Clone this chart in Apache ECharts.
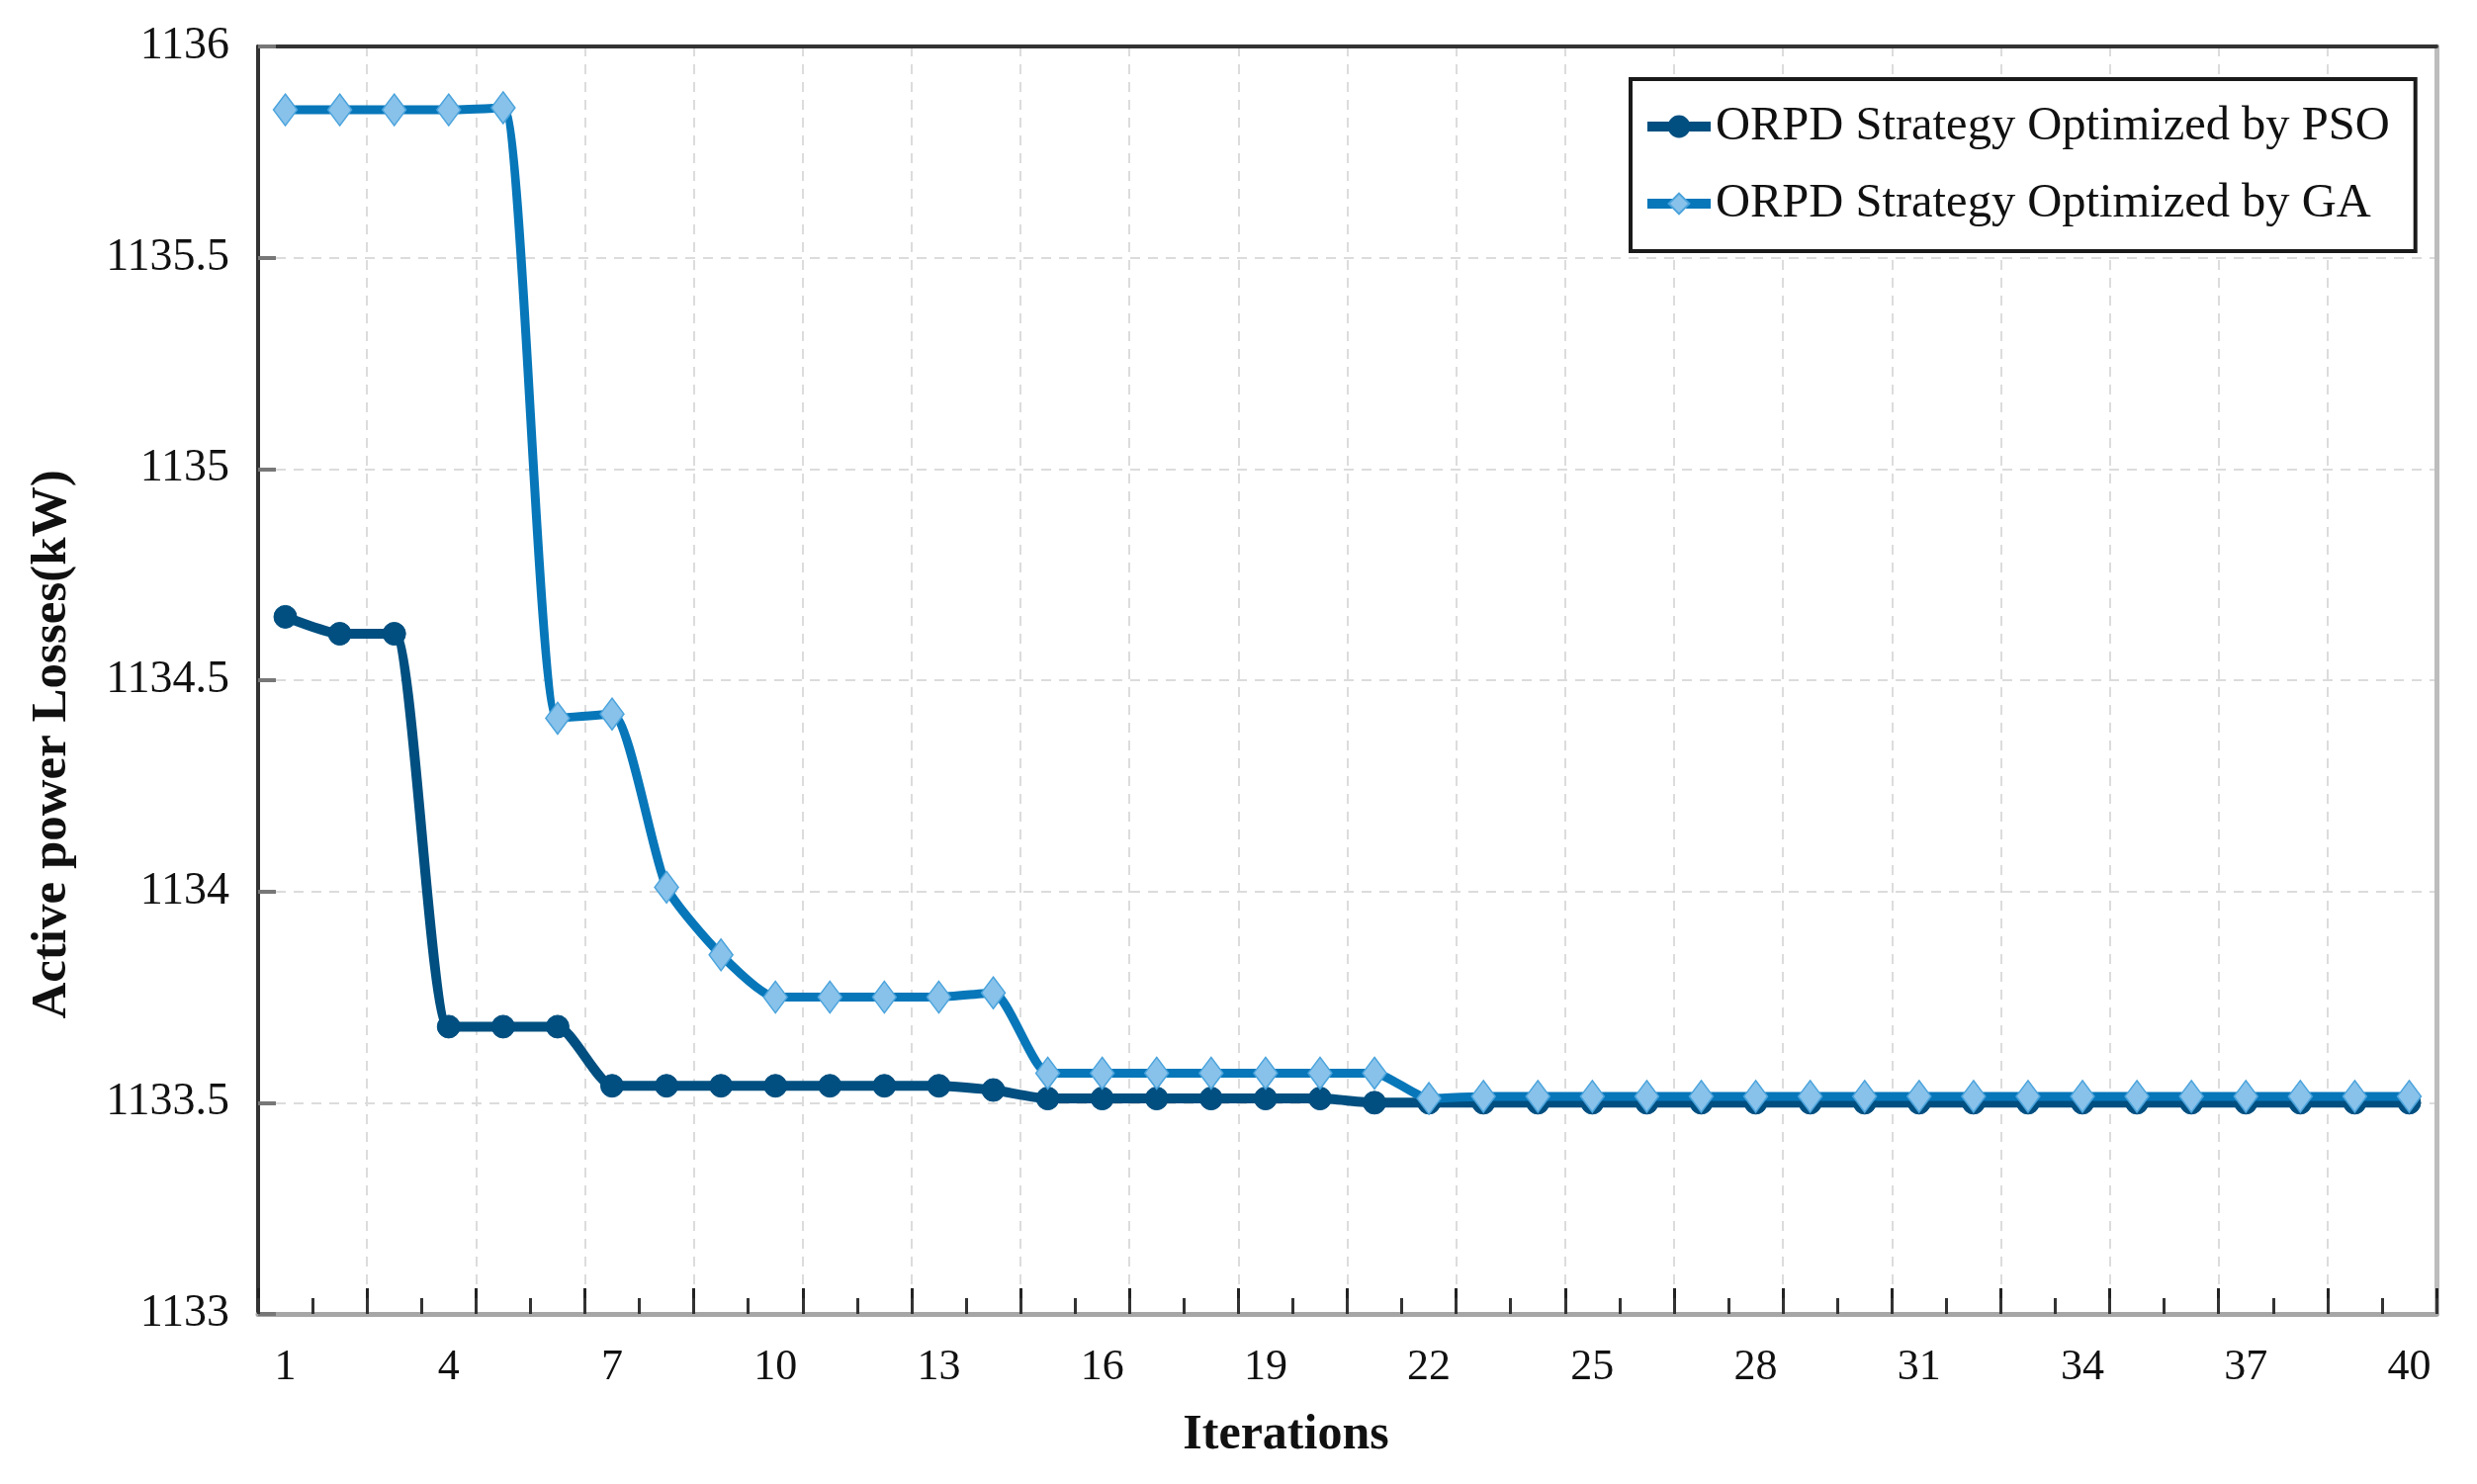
<!DOCTYPE html>
<html>
<head>
<meta charset="utf-8">
<script src="https://cdn.jsdelivr.net/npm/echarts@6/dist/echarts.min.js"></script>
<style>
html,body{margin:0;padding:0;background:#fff;}
#chart{width:2505px;height:1501px;}
</style>
</head>
<body>
<div id="chart"></div>
<script>
var iterations = [];
for (var i = 1; i <= 40; i++) iterations.push(String(i));

var psoLosses = [
  1134.65, 1134.61, 1134.61, 1133.68, 1133.68, 1133.68, 1133.54, 1133.54, 1133.54, 1133.54,
  1133.54, 1133.54, 1133.54, 1133.53, 1133.51, 1133.51, 1133.51, 1133.51, 1133.51, 1133.51,
  1133.50, 1133.50, 1133.50, 1133.50, 1133.50, 1133.50, 1133.50, 1133.50, 1133.50, 1133.50,
  1133.50, 1133.50, 1133.50, 1133.50, 1133.50, 1133.50, 1133.50, 1133.50, 1133.50, 1133.50
];
var gaLosses = [
  1135.85, 1135.85, 1135.85, 1135.85, 1135.855, 1134.41, 1134.42, 1134.01, 1133.85, 1133.75,
  1133.75, 1133.75, 1133.75, 1133.76, 1133.57, 1133.57, 1133.57, 1133.57, 1133.57, 1133.57,
  1133.57, 1133.51, 1133.515, 1133.515, 1133.515, 1133.515, 1133.515, 1133.515, 1133.515, 1133.515,
  1133.515, 1133.515, 1133.515, 1133.515, 1133.515, 1133.515, 1133.515, 1133.515, 1133.515, 1133.515
];
var seriesNames = ['ORPD Strategy Optimized by PSO', 'ORPD Strategy Optimized by GA'];
var yTicks = { min: 1133, max: 1136, interval: 0.5 };

var serif = '"Liberation Serif", "DejaVu Serif", serif';
var chart = echarts.init(document.getElementById('chart'));

chart.setOption({
  backgroundColor: '#fff',
  animation: false,
  grid: { left: 261, right: 41, top: 47, bottom: 172 },
  legend: {
    orient: 'vertical',
    left: 1649,
    top: 80,
    padding: [22, 26, 22, 12],
    itemGap: 26,
    itemWidth: 64,
    itemHeight: 26,
    borderColor: '#1a1a1a',
    borderWidth: 4,
    backgroundColor: '#fff',
    lineStyle: { width: 10 },
    textStyle: { fontFamily: serif, fontSize: 48.5, color: '#111', lineHeight: 52 },
    data: seriesNames
  },
  xAxis: [
    {
      type: 'category',
      data: iterations,
      boundaryGap: true,
      position: 'bottom',
      axisLine: { show: true, lineStyle: { color: '#a6a6a6', width: 5 } },
      axisTick: { show: true, inside: true, length: 26, interval: 1, lineStyle: { color: '#222', width: 3 } },
      axisLabel: { interval: 2, margin: 32, fontFamily: serif, fontSize: 44, color: '#111' },
      splitLine: { show: true, interval: 1, lineStyle: { color: '#dcdcdc', width: 2, type: [10, 8] } },
      name: 'Iterations',
      nameLocation: 'middle',
      nameGap: 98,
      nameTextStyle: { fontFamily: serif, fontSize: 50, fontWeight: 'bold', color: '#111', padding: [0, 124, 0, 0] }
    },
    {
      type: 'category',
      data: iterations,
      boundaryGap: true,
      position: 'bottom',
      axisLine: { show: false },
      axisTick: { show: true, inside: true, length: 16, interval: 0, lineStyle: { color: '#333', width: 3 } },
      axisLabel: { show: false },
      splitLine: { show: false }
    },
    {
      type: 'category',
      data: iterations,
      boundaryGap: true,
      position: 'top',
      axisLine: { show: true, lineStyle: { color: '#333', width: 4 } },
      axisTick: { show: false },
      axisLabel: { show: false },
      splitLine: { show: false }
    }
  ],
  yAxis: [
    {
      type: 'value',
      min: yTicks.min,
      max: yTicks.max,
      interval: yTicks.interval,
      position: 'left',
      axisLine: { show: true, lineStyle: { color: '#333', width: 4 } },
      axisTick: { show: true, inside: true, length: 18, lineStyle: { color: '#777', width: 4 } },
      axisLabel: {
        margin: 29, fontFamily: serif, fontSize: 46, color: '#111',
        formatter: function (v) { return String(v); }
      },
      splitLine: { show: true, lineStyle: { color: '#dcdcdc', width: 2, type: [10, 8] } },
      name: 'Active power Losses(kW)',
      nameLocation: 'middle',
      nameGap: 183,
      nameTextStyle: { fontFamily: serif, fontSize: 51, fontWeight: 'bold', color: '#111', padding: [0, 130, 0, 0] }
    },
    {
      type: 'value',
      min: yTicks.min,
      max: yTicks.max,
      interval: yTicks.interval,
      position: 'right',
      axisLine: { show: true, lineStyle: { color: '#bdbdbd', width: 5 } },
      axisTick: { show: false },
      axisLabel: { show: false },
      splitLine: { show: false }
    }
  ],
  series: [
    {
      name: seriesNames[0],
      type: 'line',
      data: psoLosses,
      smooth: 0.2,
      symbol: 'circle',
      symbolSize: 23,
      showAllSymbol: true,
      lineStyle: { color: '#004f80', width: 10 },
      itemStyle: { color: '#004f80', borderColor: '#004f80', borderWidth: 1 },
      z: 2
    },
    {
      name: seriesNames[1],
      type: 'line',
      data: gaLosses,
      smooth: 0.2,
      symbol: 'diamond',
      symbolSize: [24, 32],
      showAllSymbol: true,
      lineStyle: { color: '#0777ba', width: 9 },
      itemStyle: { color: '#88c2ea', borderColor: '#4aa3dc', borderWidth: 1.5 },
      z: 3
    }
  ]
});
</script>
</body>
</html>
